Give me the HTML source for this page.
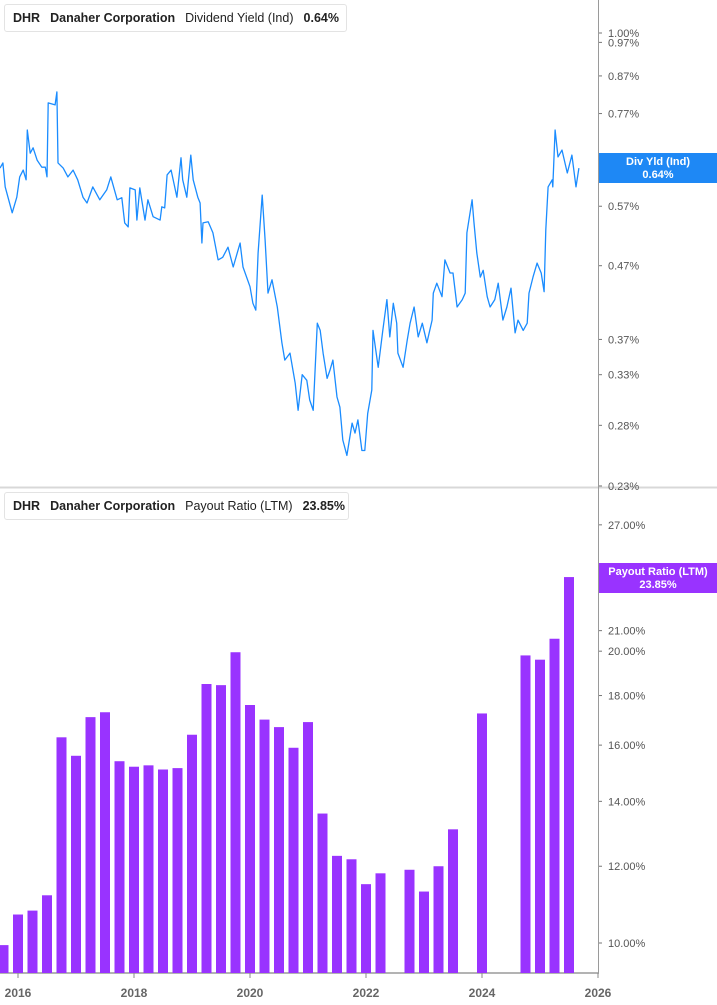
<!DOCTYPE html>
<html><head><meta charset="utf-8"><style>
body{margin:0;background:#fff;font-family:"Liberation Sans",sans-serif;}
#wrap{position:relative;width:717px;height:1005px;overflow:hidden;}
.legend{position:absolute;height:26px;border:1px solid #e3e3e3;border-radius:3px;background:#fff;font-size:12.5px;color:#222;display:flex;align-items:center;white-space:nowrap;}
.legend .bar{width:4px;height:26px;border-radius:2px 0 0 2px;margin-right:8px;}
.legend b{margin-right:10px;}
.legend span{margin-right:10px;}
</style></head><body>
<div id="wrap">
<svg id="chart" width="717" height="1005"></svg>
<div class="legend" style="left:4px;top:4px;width:341px;"><div class="bar" style="background:#1a8cff"></div><b>DHR</b><b>Danaher Corporation</b><span>Dividend Yield (Ind)</span><b>0.64%</b></div>
<div class="legend" style="left:4px;top:492px;width:343px;"><div class="bar" style="background:#9933ff"></div><b>DHR</b><b>Danaher Corporation</b><span>Payout Ratio (LTM)</span><b>23.85%</b></div>
</div>
<script>
const lineDates=[2015.69,2015.74,2015.78,2015.90,2015.98,2016.03,2016.09,2016.14,2016.16,2016.21,2016.26,2016.33,2016.41,2016.47,2016.50,2016.52,2016.64,2016.67,2016.69,2016.78,2016.86,2016.95,2017.03,2017.12,2017.19,2017.29,2017.41,2017.53,2017.60,2017.71,2017.79,2017.84,2017.90,2017.93,2018.02,2018.05,2018.10,2018.19,2018.24,2018.33,2018.45,2018.48,2018.53,2018.57,2018.64,2018.74,2018.81,2018.84,2018.91,2018.98,2019.02,2019.10,2019.14,2019.17,2019.19,2019.28,2019.36,2019.45,2019.53,2019.62,2019.71,2019.83,2019.88,2020.00,2020.05,2020.10,2020.14,2020.21,2020.26,2020.31,2020.38,2020.47,2020.55,2020.60,2020.69,2020.78,2020.83,2020.90,2020.98,2021.03,2021.09,2021.16,2021.21,2021.26,2021.33,2021.38,2021.43,2021.50,2021.55,2021.60,2021.67,2021.76,2021.81,2021.86,2021.93,2021.98,2022.03,2022.10,2022.12,2022.21,2022.29,2022.36,2022.41,2022.47,2022.53,2022.55,2022.64,2022.71,2022.76,2022.83,2022.90,2022.97,2023.05,2023.14,2023.16,2023.22,2023.31,2023.36,2023.45,2023.50,2023.57,2023.66,2023.71,2023.74,2023.83,2023.86,2023.91,2023.97,2024.02,2024.09,2024.14,2024.22,2024.28,2024.36,2024.43,2024.50,2024.57,2024.62,2024.71,2024.78,2024.81,2024.88,2024.95,2025.02,2025.07,2025.10,2025.14,2025.21,2025.22,2025.26,2025.31,2025.38,2025.47,2025.55,2025.62,2025.67];
const lineValues=[0.645,0.656,0.607,0.558,0.587,0.627,0.641,0.621,0.730,0.677,0.689,0.662,0.647,0.647,0.627,0.797,0.792,0.826,0.656,0.645,0.627,0.641,0.621,0.587,0.576,0.607,0.582,0.601,0.627,0.582,0.586,0.540,0.533,0.605,0.601,0.545,0.605,0.545,0.582,0.551,0.545,0.569,0.567,0.631,0.641,0.587,0.667,0.621,0.587,0.673,0.621,0.587,0.576,0.506,0.540,0.542,0.523,0.479,0.483,0.499,0.468,0.506,0.468,0.439,0.416,0.407,0.490,0.591,0.511,0.430,0.449,0.411,0.366,0.346,0.354,0.321,0.294,0.330,0.324,0.304,0.294,0.390,0.381,0.354,0.326,0.335,0.346,0.307,0.297,0.267,0.254,0.282,0.273,0.285,0.258,0.258,0.291,0.314,0.381,0.338,0.381,0.421,0.373,0.416,0.390,0.354,0.338,0.369,0.390,0.411,0.373,0.390,0.366,0.394,0.430,0.444,0.425,0.479,0.459,0.459,0.411,0.421,0.430,0.523,0.582,0.542,0.490,0.453,0.463,0.425,0.411,0.421,0.444,0.394,0.411,0.437,0.378,0.394,0.381,0.390,0.430,0.453,0.474,0.459,0.432,0.528,0.607,0.621,0.607,0.730,0.669,0.684,0.635,0.673,0.607,0.645];
const barDates=[2015.75,2016.0,2016.25,2016.5,2016.75,2017.0,2017.25,2017.5,2017.75,2018.0,2018.25,2018.5,2018.75,2019.0,2019.25,2019.5,2019.75,2020.0,2020.25,2020.5,2020.75,2021.0,2021.25,2021.5,2021.75,2022.0,2022.25,2022.5,2022.75,2023.0,2023.25,2023.5,2023.75,2024.0,2024.25,2024.5,2024.75,2025.0,2025.25,2025.5];
const barValues=[9.95,10.7,10.8,11.2,16.3,15.6,17.1,17.3,15.4,15.2,15.25,15.1,15.15,16.4,18.5,18.45,19.95,17.6,17.0,16.7,15.9,16.9,13.6,12.3,12.2,11.5,11.8,null,11.9,11.3,12.0,13.1,null,17.25,null,null,19.8,19.6,20.6,23.85];
const xTicks=[2016,2018,2020,2022,2024,2026];
const topTicks=[1.00,0.97,0.87,0.77,0.67,0.57,0.47,0.37,0.33,0.28,0.23];
const bottomTicks=[27,21,20,18,16,14,12,10];

const NS='http://www.w3.org/2000/svg';
const svg=document.getElementById('chart');
const X=d=>18+(d-2016)*58;
const YT=v=>33-Math.log(v)*308.2;
const YB=v=>943-Math.log(v/10)*421;
function mk(tag,attrs){const e=document.createElementNS(NS,tag);for(const k in attrs)e.setAttribute(k,attrs[k]);svg.appendChild(e);return e;}

// separator & axes
let sep=mk('line',{x1:0,y1:487.5,x2:717,y2:487.5,stroke:'#d8d8d8','stroke-width':2});


let ya=mk('line',{x1:598.5,y1:0,x2:598.5,y2:973,stroke:'#9a9a9a','stroke-width':1});


let xa=mk('line',{x1:0,y1:973,x2:599,y2:973,stroke:'#9a9a9a','stroke-width':1.5});



// top ticks
topTicks.forEach(t=>{
  const y=YT(t);
  const tk=mk('line',{x1:599,y1:y,x2:602,y2:y,stroke:'#777'});
  
  
  const tx=mk('text',{x:608,y:y+4,'font-size':11,fill:'#555'});
  tx.textContent=t.toFixed(2)+'%';
  
  
});
bottomTicks.forEach(t=>{
  const y=YB(t);
  const tk=mk('line',{x1:599,y1:y,x2:602,y2:y,stroke:'#777'});
  
  
  const tx=mk('text',{x:608,y:y+4,'font-size':11,fill:'#555'});
  tx.textContent=t.toFixed(2)+'%';
  
  
});
xTicks.forEach(t=>{
  const x=X(t);
  const tk=mk('line',{x1:x,y1:973,x2:x,y2:978,stroke:'#888'});
  
  
  const tx=mk('text',{x:x,y:997,'font-size':12,'font-weight':'bold',fill:'#666','text-anchor':'middle'});
  tx.textContent=String(t);
  
  
});

// line
let d='';
lineDates.forEach((dt,i)=>{d+=(i?'L':'M')+X(dt).toFixed(1)+','+YT(lineValues[i]).toFixed(1);});
const p=mk('path',{d:d,fill:'none',stroke:'#1a8cff','stroke-width':1.3,'stroke-linejoin':'round'});



// bars
barDates.forEach((dt,i)=>{
  const v=barValues[i]; if(v==null)return;
  const y=YB(v);
  const r=mk('rect',{x:X(dt)-5,y:y,width:10,height:973-y,fill:'#9933ff'});
  
  
});

// badges
const b1=mk('rect',{x:599,y:153,width:118,height:30,fill:'#1e88f5'});


[['Div Yld (Ind)',165],['0.64%',178]].forEach(([s,y])=>{const t=mk('text',{x:658,y:y,'font-size':11,'font-weight':'bold',fill:'#fff','text-anchor':'middle'});t.textContent=s;});
const b2=mk('rect',{x:599,y:563,width:118,height:30,fill:'#9933ff'});


[['Payout Ratio (LTM)',575],['23.85%',588]].forEach(([s,y])=>{const t=mk('text',{x:658,y:y,'font-size':11,'font-weight':'bold',fill:'#fff','text-anchor':'middle'});t.textContent=s;});
</script>
</body></html>
